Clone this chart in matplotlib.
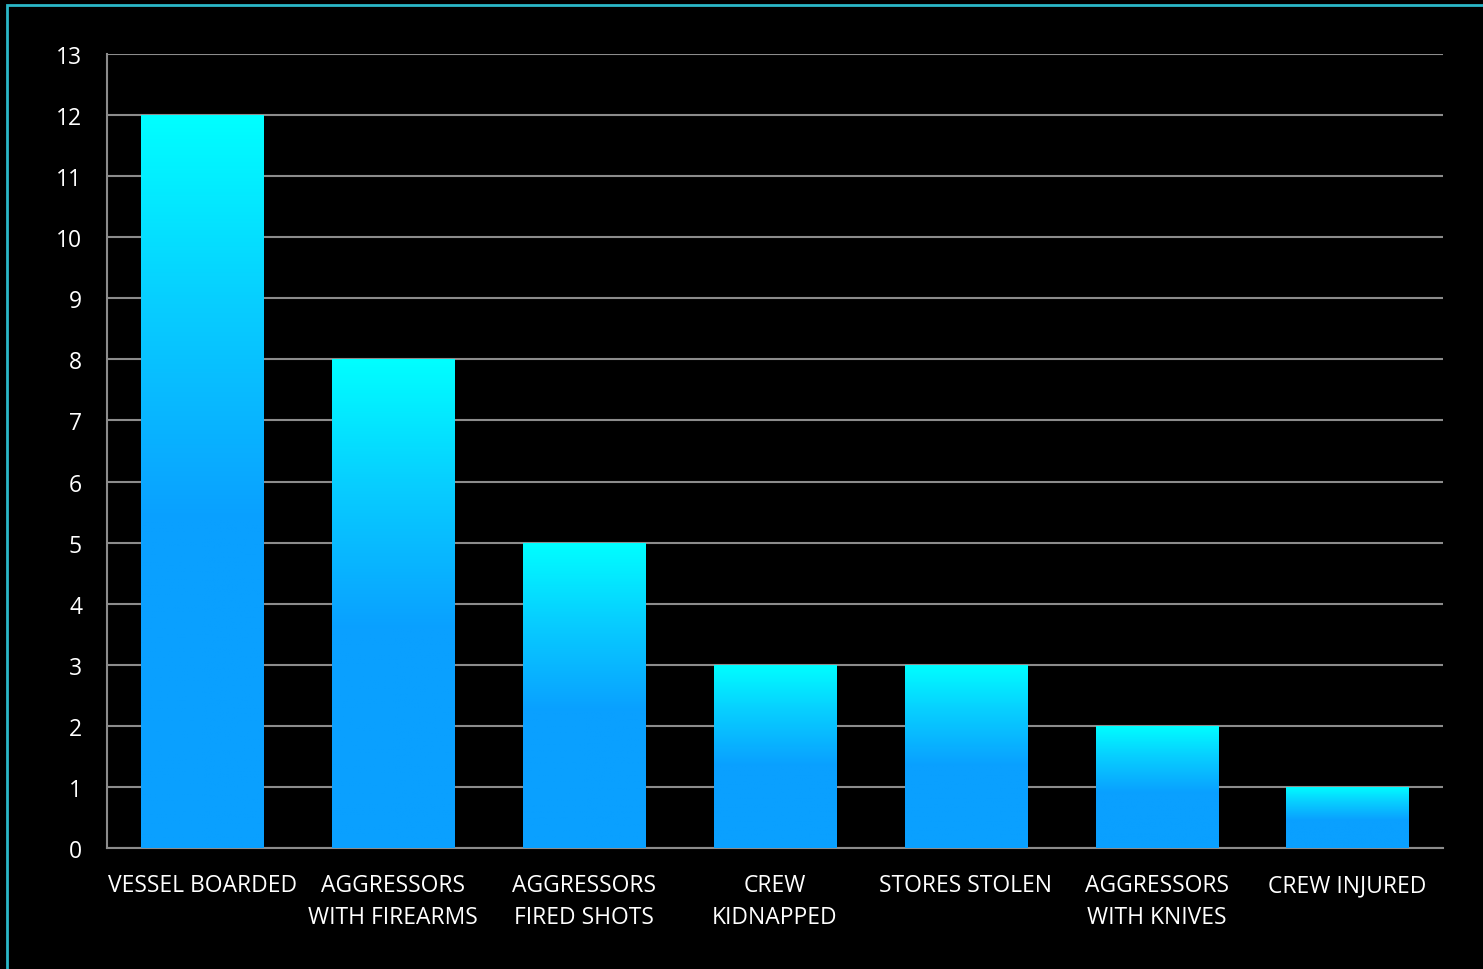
import numpy as np
import matplotlib
matplotlib.use("Agg")
import matplotlib.pyplot as plt
from matplotlib.colors import LinearSegmentedColormap
from matplotlib.patches import Rectangle

categories = ["VESSEL BOARDED", "AGGRESSORS\nWITH FIREARMS", "AGGRESSORS\nFIRED SHOTS",
              "CREW\nKIDNAPPED", "STORES STOLEN", "AGGRESSORS\nWITH KNIVES", "CREW INJURED"]
counts = [12, 8, 5, 3, 3, 2, 1]
yticks = list(range(0, 14))

plt.rcParams['font.family'] = ['Open Sans', 'DejaVu Sans']

fig = plt.figure(figsize=(14.83, 9.70), dpi=100, facecolor='black')
ax = fig.add_axes([0.0722, 0.1247, 0.9008, 0.8186])
ax.set_facecolor('black')

x = np.arange(len(categories))
bars = ax.bar(x, counts, width=0.64, color='none', zorder=3)

# vertical gradient: cyan at top fading to blue around the middle of each bar
cmap = LinearSegmentedColormap.from_list(
    'bar', [(0.0, '#0aa0ff'), (0.45, '#0aa0ff'), (0.75, '#07cfff'), (1.0, '#00ffff')])
grad = np.linspace(0, 1, 256).reshape(-1, 1)
for b in bars:
    x0, w, h = b.get_x(), b.get_width(), b.get_height()
    im = ax.imshow(grad, cmap=cmap, origin='lower', aspect='auto',
                   extent=(x0, x0 + w, 0, h), zorder=3)
    im.set_clip_path(b)

ax.set_xlim(-0.5, len(categories) - 0.5)
ax.set_ylim(0, 13)
ax.set_yticks(yticks)
ax.set_xticks(x)
ax.set_xticklabels(categories, color='white', fontsize=16.5, linespacing=1.45)
ax.tick_params(axis='y', colors='white', labelsize=16.5, length=0, pad=18)
ax.tick_params(axis='x', length=0, pad=18)
ax.grid(axis='y', color='#8c8c8c', linewidth=1.5, zorder=0)
for side in ['top', 'right']:
    ax.spines[side].set_visible(False)
for side in ['left', 'bottom']:
    ax.spines[side].set_color('#8c8c8c')
    ax.spines[side].set_linewidth(1.5)

# cyan frame around the slide
fig.patches.append(Rectangle((0.005, -0.01), 1.2, 1.004, transform=fig.transFigure,
                             fill=False, edgecolor='#2bb8c8', linewidth=2))

fig.savefig('out.png', dpi=100, facecolor='black')
